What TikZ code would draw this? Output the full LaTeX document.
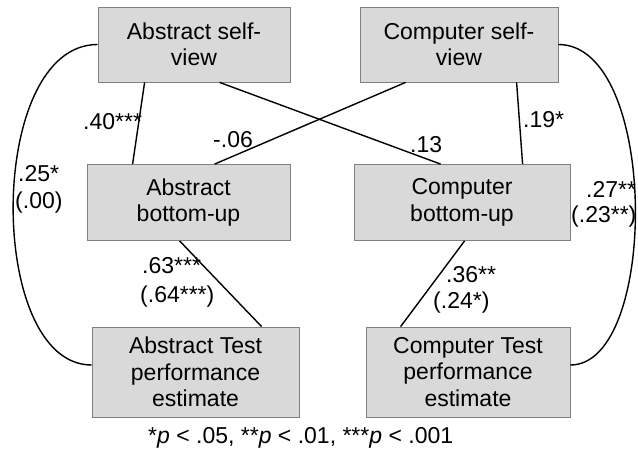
\documentclass[tikz,border=0pt]{standalone}
\usepackage{fontspec}
\setmainfont{Liberation Sans}
\usetikzlibrary{calc}
\definecolor{boxfill}{HTML}{D9D9D9}
\definecolor{boxline}{HTML}{808080}
\begin{document}
\begin{tikzpicture}[x=1pt,y=-1pt,
  box/.style={draw=boxline, fill=boxfill, line width=0.8pt, align=center, inner sep=0pt, font=\fontsize{23}{26.5}\selectfont},
  conn/.style={line width=1.4pt, draw=black},
  lab/.style={font=\fontsize{23}{26.5}\selectfont, inner sep=0pt, anchor=base west}]
\useasboundingbox (0,0) rectangle (638,452);
\node[box, minimum width=192pt, minimum height=75pt] (asv) at (194,44.5) {Abstract self-\\view};
\node[box, minimum width=198pt, minimum height=75pt] (csv) at (459,44.5) {Computer self-\\view};
\node[box, minimum width=203pt, minimum height=76pt] (abu) at (188.5,202.5) {Abstract\\bottom-up};
\node[box, minimum width=216pt, minimum height=76pt] (cbu) at (462,202.5) {Computer\\bottom-up};
\node[box, minimum width=207pt, minimum height=90pt] (at) at (195.5,372) {Abstract Test\\performance\\estimate};
\node[box, minimum width=204pt, minimum height=90pt] (ct) at (468,372) {Computer Test\\performance\\estimate};
% connectors
\draw[conn] ($(asv.south west)+(47,0)$) -- ($(abu.north west)+(46,0)$);
\draw[conn] ($(asv.south west)+(122,0)$) -- ($(cbu.north west)+(87,0)$);
\draw[conn] ($(csv.south west)+(46,0)$) -- ($(abu.north west)+(128,0)$);
\draw[conn] ($(csv.south west)+(157,0)$) -- ($(cbu.north west)+(169,0)$);
\draw[conn] ($(abu.south west)+(93,0)$) -- ($(at.north west)+(170,0)$);
\draw[conn] ($(cbu.south west)+(111,0)$) -- ($(ct.north west)+(35,0)$);
\draw[conn] (asv.west) .. controls (-14,44.5) and (-14,365) .. ($(at.west)+(0,-7)$);
\draw[conn] (csv.east) .. controls (659,44.5) and (659,365) .. ($(ct.east)+(0,-7)$);
% labels
\node[lab] (l40) at (83,130) {.40***};
\node[lab] (l06) at (213,147) {-.06};
\node[lab] (l13) at (410,152) {.13};
\node[lab] (l19) at (523,128) {.19*};
\node[lab] (l25a) at (18,182) {.25*};
\node[lab] (l25b) at (15,208) {(.00)};
\node[lab] (l27a) at (586,197) {.27**};
\node[lab] (l27b) at (571,222) {(.23**)};
\node[lab] (l63a) at (142,273) {.63***};
\node[lab] (l63b) at (140,302) {(.64***)};
\node[lab] (l36a) at (446,282) {.36**};
\node[lab] (l36b) at (433,308) {(.24*)};
\node[lab] (foot) at (148,443) {*\textit{p} < .05, **\textit{p} < .01, ***\textit{p} < .001};
\end{tikzpicture}
\end{document}
